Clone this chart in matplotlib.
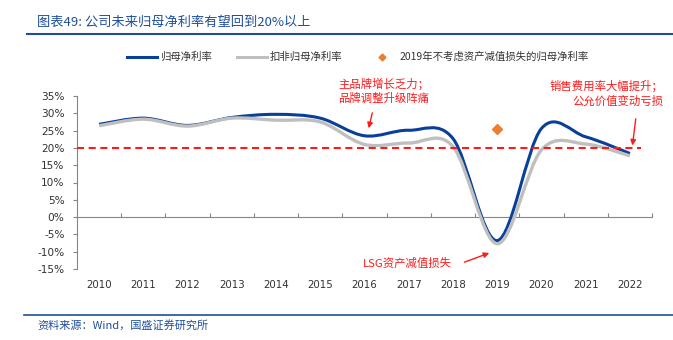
"""
Grafico de margen neto (归母净利率) con curvas suavizadas estilo Excel.
"""

import matplotlib
matplotlib.use('Agg')
import matplotlib.pyplot as plt
import numpy as np
from matplotlib.lines import Line2D
from matplotlib.path import Path
from matplotlib.patches import PathPatch

# ==========================================
# DATOS
# ==========================================
ANIOS = ['2010', '2011', '2012', '2013', '2014', '2015', '2016',
         '2017', '2018', '2019', '2020', '2021', '2022']
MARGEN_NETO = [26.8, 28.6, 26.5, 28.8, 29.7, 28.6, 23.5, 25.1, 22.7, -6.8, 25.6, 23.2, 18.4]
MARGEN_NETO_AJUSTADO = [26.4, 28.3, 26.3, 28.6, 28.0, 27.5, 21.0, 21.4, 20.4, -7.7, 19.4, 21.1, 17.7]
ANIO_SIN_DETERIORO = '2019'
MARGEN_SIN_DETERIORO = 25.6
OBJETIVO = 20
TICKS_Y = [-15, -10, -5, 0, 5, 10, 15, 20, 25, 30, 35]

# ==========================================
# ESTILO
# ==========================================
AZUL = '#0A3F99'
GRIS = '#BFBFBF'
NARANJA = '#ED7D31'
ROJO = '#FF1A1A'
AZUL_TITULO = '#1F4E9A'
GRIS_EJE = '#868686'
TEXTO = '#333333'

TITULO = '图表49: 公司未来归母净利率有望回到20%以上'
FUENTE = '资料来源：Wind，国盛证券研究所'
LEYENDAS = ['归母净利率', '扣非归母净利率', '2019年不考虑资产减值损失的归母净利率']

plt.rcParams['font.family'] = ['DejaVu Sans', 'Noto Sans CJK SC']
CJK = ['Noto Sans CJK SC', 'DejaVu Sans']


def curva_suave(ax, valores, color, ancho, z):
    """
    Dibuja la serie como Bezier cubica (Catmull-Rom), igual que la linea suavizada de Excel.
    """
    y = np.asarray(valores, dtype=float)
    x = np.arange(len(y), dtype=float)
    xp = np.r_[x[0], x, x[-1]]
    yp = np.r_[y[0], y, y[-1]]
    verts = [(x[0], y[0])]
    codes = [Path.MOVETO]
    for i in range(len(y) - 1):
        c1 = (x[i] + (xp[i + 2] - xp[i]) / 6, y[i] + (yp[i + 2] - yp[i]) / 6)
        c2 = (x[i + 1] - (xp[i + 3] - xp[i + 1]) / 6, y[i + 1] - (yp[i + 3] - yp[i + 1]) / 6)
        verts += [c1, c2, (x[i + 1], y[i + 1])]
        codes += [Path.CURVE4] * 3
    ax.add_patch(PathPatch(Path(verts, codes), facecolor='none', edgecolor=color,
                           lw=ancho, capstyle='butt', joinstyle='round', zorder=z))


def main():
    fig = plt.figure(figsize=(6.73, 3.40), dpi=100)
    ax = fig.add_axes([77 / 673, 1 - 269 / 340, 575 / 673, 173 / 340])

    n = len(ANIOS)
    curva_suave(ax, MARGEN_NETO, AZUL, 2.2, 3)
    curva_suave(ax, MARGEN_NETO_AJUSTADO, GRIS, 2.4, 4)
    ax.plot([ANIOS.index(ANIO_SIN_DETERIORO)], [MARGEN_SIN_DETERIORO], 'D',
            color=NARANJA, markersize=5.5, zorder=5)
    ax.plot([-0.5, n - 0.75], [OBJETIVO, OBJETIVO], color=ROJO, lw=1.5,
            linestyle=(0, (3.4, 2.2)), zorder=6)

    ax.set_xlim(-0.5, n - 0.5)
    ax.set_ylim(TICKS_Y[0], TICKS_Y[-1])

    # ejes estilo Excel
    for lado in ['top', 'right']:
        ax.spines[lado].set_visible(False)
    ax.spines['left'].set_color(GRIS_EJE)
    ax.spines['bottom'].set_color(GRIS_EJE)
    ax.spines['left'].set_linewidth(0.8)
    ax.spines['bottom'].set_linewidth(0.8)
    ax.spines['bottom'].set_position(('data', 0))

    ax.set_yticks(TICKS_Y)
    ax.set_yticklabels([f'{v}%' for v in TICKS_Y])
    ax.tick_params(axis='y', direction='out', length=3, width=0.8, color=GRIS_EJE,
                   labelsize=7.6, labelcolor=TEXTO, pad=6)

    ax.set_xticks(range(n))
    ax.set_xticklabels(ANIOS)
    ax.set_xticks(np.arange(0.5, n, 1), minor=True)
    ax.tick_params(axis='x', which='major', length=0, labelsize=7.4, labelcolor=TEXTO, pad=45)
    ax.tick_params(axis='x', which='minor', direction='in', length=3, width=0.8, color=GRIS_EJE)

    # leyenda
    handles = [Line2D([], [], color=AZUL, lw=2.2),
               Line2D([], [], color=GRIS, lw=2.2),
               Line2D([], [], marker='D', color=NARANJA, linestyle='none', markersize=3.5)]
    leg = fig.legend(handles, LEYENDAS, loc='center', bbox_to_anchor=(0.532, 1 - 57 / 340),
                     ncol=3, frameon=False, handlelength=2.9, handletextpad=0.25,
                     columnspacing=2.4, prop={'family': CJK, 'size': 7.5})
    for t in leg.get_texts():
        t.set_color(TEXTO)

    # anotaciones
    ax.annotate('', xy=(6.08, 24.9), xytext=(6.19, 30.9),
                arrowprops=dict(arrowstyle='-|>', color=ROJO, lw=1, mutation_scale=8), zorder=7)
    ax.text(5.40, 36.4, '主品牌增长乏力；\n品牌调整升级阵痛', color=ROJO, fontsize=8.2,
            family=CJK, ha='left', va='center', linespacing=1.35, clip_on=False)

    ax.annotate('', xy=(12.05, 19.9), xytext=(12.14, 29.2),
                arrowprops=dict(arrowstyle='-|>', color=ROJO, lw=1, mutation_scale=8), zorder=7)
    ax.text(12.75, 35.7, '销售费用率大幅提升；\n公允价值变动亏损', color=ROJO, fontsize=8.2,
            family=CJK, ha='right', va='center', multialignment='right',
            linespacing=1.35, clip_on=False)

    ax.annotate('', xy=(8.88, -10.1), xytext=(8.20, -13.3),
                arrowprops=dict(arrowstyle='-|>', color=ROJO, lw=1, mutation_scale=8), zorder=7)
    ax.text(5.97, -13.3, 'LSG资产减值损失', color=ROJO, fontsize=8.2, family=CJK,
            ha='left', va='center', clip_on=False)

    # titulo y fuente
    fig.text(37 / 673, 1 - 22 / 340, TITULO, color=AZUL_TITULO, fontsize=9.5,
             family=CJK, style='italic', ha='left', va='center')
    fig.add_artist(Line2D([27 / 673, 1], [1 - 34 / 340] * 2, color=AZUL_TITULO, lw=1.5))
    fig.add_artist(Line2D([24 / 673, 1], [1 - 315 / 340] * 2, color=AZUL_TITULO, lw=1.2))
    fig.text(37 / 673, 1 - 325 / 340, FUENTE, color=AZUL_TITULO, fontsize=8,
             family=CJK, style='italic', ha='left', va='center')

    fig.savefig('out.png', dpi=100)


if __name__ == "__main__":
    main()
